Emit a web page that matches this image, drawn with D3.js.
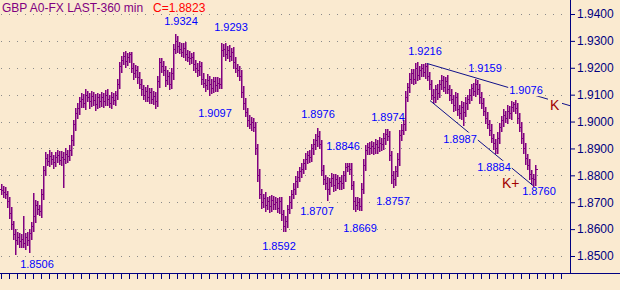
<!DOCTYPE html>
<html>
<head>
<meta charset="utf-8">
<script src="https://cdn.jsdelivr.net/npm/d3@7"></script>
<style>
  html, body { margin: 0; padding: 0; background: #FAEAD0; }
  svg { display: block; }
</style>
</head>
<body>
<svg id="chart" width="620" height="290"></svg>
<script>
// 360-min GBP bars, closes (price), wicks beyond the body in pips
const closes = [
  1.8747,1.8738,1.8729,1.8705,1.8660,1.8618,1.8582,1.8560,1.8570,1.8555,
  1.8562,1.8548,1.8570,1.8558,1.8585,1.8610,1.8650,1.8690,1.8675,1.8668,
  1.8729,1.8820,1.8866,1.8855,1.8872,1.8860,1.8850,1.8868,1.8875,1.8858,
  1.8870,1.8862,1.8878,1.8872,1.8895,1.8930,1.8990,1.9030,1.9050,1.9075,
  1.9085,1.9070,1.9100,1.9090,1.9075,1.9095,1.9080,1.9065,1.9090,1.9075,
  1.9090,1.9075,1.9100,1.9085,1.9070,1.9090,1.9080,1.9100,1.9140,1.9205,
  1.9230,1.9245,1.9225,1.9240,1.9250,1.9200,1.9180,1.9190,1.9165,1.9140,
  1.9120,1.9100,1.9115,1.9090,1.9110,1.9085,1.9095,1.9075,1.9150,1.9220,
  1.9205,1.9190,1.9155,1.9170,1.9140,1.9180,1.9270,1.9300,1.9280,1.9270,
  1.9260,1.9275,1.9250,1.9240,1.9235,1.9240,1.9215,1.9200,1.9190,1.9205,
  1.9160,1.9145,1.9135,1.9155,1.9140,1.9125,1.9150,1.9135,1.9145,1.9140,
  1.9265,1.9270,1.9250,1.9265,1.9245,1.9260,1.9220,1.9200,1.9190,1.9170,
  1.9110,1.9070,1.9035,1.9005,1.8990,1.9000,1.8980,1.8900,1.8800,1.8730,
  1.8700,1.8715,1.8690,1.8705,1.8685,1.8710,1.8695,1.8700,1.8680,1.8705,
  1.8655,1.8610,1.8630,1.8675,1.8700,1.8730,1.8750,1.8780,1.8795,1.8815,
  1.8825,1.8845,1.8860,1.8875,1.8870,1.8900,1.8915,1.8930,1.8945,1.8915,
  1.8820,1.8785,1.8770,1.8750,1.8775,1.8790,1.8765,1.8785,1.8770,1.8780,
  1.8770,1.8800,1.8830,1.8835,1.8825,1.8765,1.8705,1.8690,1.8700,1.8685,
  1.8750,1.8840,1.8895,1.8905,1.8900,1.8910,1.8900,1.8915,1.8905,1.8920,
  1.8915,1.8940,1.8955,1.8945,1.8877,1.8800,1.8785,1.8815,1.8860,1.8950,
  1.8970,1.8990,1.9090,1.9130,1.9160,1.9180,1.9160,1.9200,1.9175,1.9190,
  1.9200,1.9185,1.9205,1.9170,1.9140,1.9100,1.9090,1.9120,1.9105,1.9140,
  1.9155,1.9130,1.9150,1.9120,1.9100,1.9085,1.9060,1.9090,1.9045,1.9030,
  1.9055,1.9035,1.9070,1.9085,1.9100,1.9125,1.9115,1.9140,1.9120,1.9090,
  1.9070,1.9040,1.9015,1.8990,1.8970,1.8940,1.8920,1.8900,1.8940,1.8980,
  1.9005,1.9025,1.9015,1.9040,1.9030,1.9055,1.9065,1.9050,1.9015,1.8980,
  1.8940,1.8900,1.8865,1.8840,1.8805,1.8790,1.8785,1.8823
];
const wickHi = [
  16,14,20,12,15,22,14,18,20,15,  18,85,14,20,16,15,86,20,16,14,
  22,16,20,15,24,16,14,20,18,15,  20,16,22,15,16,20,14,20,18,15,
  20,16,22,14,18,20,15,24,16,14,  20,15,18,22,14,20,16,15,20,18,
  14,14,18,15,9,9,16,20,15,18,  20,16,14,22,16,15,20,16,20,18,
  15,20,16,22,14,20,18,24,20,16,  22,16,20,15,24,16,20,15,18,20,
  16,20,15,22,14,20,16,15,20,16,  28,20,22,16,20,14,16,20,15,18,
  20,22,16,15,20,16,14,20,16,22,  20,16,22,15,20,16,14,20,16,15,
  16,15,20,16,22,14,20,16,20,15,  20,16,22,15,20,16,20,22,31,20,
  16,20,15,22,16,20,14,20,16,15,  20,16,15,11,10,20,14,16,20,15,
  20,22,16,15,20,16,14,20,16,22,  20,16,19,16,20,15,16,20,22,20,
  20,16,22,15,20,16,14,16,20,15,  14,14,11,10,16,15,22,16,20,15,
  20,16,15,22,16,20,14,20,16,15,  20,16,22,15,20,16,18,19,16,20,
  20,16,15,22,16,20,14,16,20,15,  16,20,15,22,16,20,9,16,20,16,
  20,16,22,15,20,16,14,16
];
const wickLo = [
  16,20,15,22,20,16,20,54,16,22,  20,16,22,16,44,20,16,22,20,16,
  22,16,20,15,20,16,22,16,20,15,  20,107,16,22,15,20,16,20,16,22,
  20,16,22,15,24,16,20,22,16,20,  16,20,15,22,16,20,16,20,15,16,
  20,16,22,15,20,16,22,16,20,15,  20,16,22,15,20,16,20,24,16,20,
  20,16,22,15,20,16,20,16,22,15,  16,20,22,15,20,16,22,16,20,15,
  20,16,22,15,43,20,16,22,20,16,  16,20,22,15,20,16,20,16,22,15,
  20,22,16,20,15,22,16,20,22,16,  20,16,22,15,20,16,20,22,16,20,
  20,18,16,22,15,20,16,20,22,16,  20,16,22,15,20,16,20,16,22,15,
  20,16,22,43,20,16,22,20,16,20,  20,16,22,15,20,16,30,21,16,14,
  14,16,20,15,22,16,20,16,22,15,  20,16,22,15,20,30,28,22,16,22,
  20,16,22,15,20,16,20,16,22,15,  20,16,22,15,20,16,22,16,20,15,
  20,16,22,15,20,16,22,16,20,15,  20,48,16,22,15,20,16,20,16,22,
  20,16,22,15,20,16,22,16,16,20,  16,20,15,22,16,20,16,20,22,16,
  20,16,22,15,20,22,25,20
];
const firstOpen = 1.8750;

const yTicks = [1.85, 1.86, 1.87, 1.88, 1.89, 1.90, 1.91, 1.92, 1.93, 1.94];

// swing-point labels: value, bar it sits over
const noteVals = [1.8506, 1.9324, 1.9293, 1.9097, 1.8976, 1.8846, 1.8974, 1.8707, 1.8592,
                  1.8669, 1.8757, 1.9216, 1.9159, 1.9076, 1.8987, 1.8884, 1.8760];
const noteBars = [18, 90, 115, 107, 158.5, 171, 193.5, 158, 139,
                  179.5, 196, 212, 242, 262.5, 229.5, 246.5, 269];
// layout: pixel offset of each label from its level, and whether it cuts a channel line
const noteDy   = [13.5, -9.5, -12, 21.5, -10, -13, -7.5, 14.5, 18.5,
                  21.5, 18, -8.5, -7, -7, 17.5, 18, 9];
const noteBox  = [0,0,0,0,0,0,0,0,0, 0,0,0,0,1,1,1,0];

// channel lines [bar, price]
const upperLine = [[213, 1.9216], [284.5, 1.9059]];
const lowerLine = [[214.5, 1.9078], [266, 1.8762]];

const bg = '#FAEAD0';
const font = '"Liberation Sans", Arial, sans-serif';

const bars = closes.map((c, i) => {
  const o = i === 0 ? firstOpen : closes[i - 1];
  return {
    i: i, o: o, c: c,
    h: Math.max(o, c) + wickHi[i] / 10000,
    l: Math.min(o, c) - wickLo[i] / 10000
  };
});

const svg = d3.select('#chart');
svg.append('rect').attr('width', 620).attr('height', 290).attr('fill', bg);

const xScale = d3.scaleLinear().domain([0, 284]).range([1, 569]);
const yScale = d3.scaleLinear().domain([1.85, 1.94]).range([256, 14]);

// dotted grid
svg.append('g')
  .selectAll('line')
  .data(yTicks)
  .enter()
  .append('line')
  .attr('x1', 1).attr('x2', 566)
  .attr('y1', d => Math.round(yScale(d)) + 0.5)
  .attr('y2', d => Math.round(yScale(d)) + 0.5)
  .attr('stroke', '#8a8a8a')
  .attr('stroke-dasharray', '1,7');

// OHLC bars
const barG = svg.append('g').attr('fill', '#800080');
bars.forEach(b => {
  const x = Math.round(xScale(b.i));
  const yh = Math.round(yScale(b.h));
  const yl = Math.round(yScale(b.l));
  barG.append('rect').attr('x', x).attr('y', yh).attr('width', 1.5).attr('height', yl - yh + 1);
  barG.append('rect').attr('x', x - 2).attr('y', Math.round(yScale(b.o))).attr('width', 2).attr('height', 1);
  barG.append('rect').attr('x', x + 1).attr('y', Math.round(yScale(b.c))).attr('width', 2).attr('height', 1);
});

// channel lines
const line = d3.line().x(d => xScale(d[0])).y(d => yScale(d[1]));
[upperLine, lowerLine].forEach(pts => {
  svg.append('path')
    .attr('d', line(pts))
    .attr('fill', 'none')
    .attr('stroke', '#10108a')
    .attr('stroke-width', 1);
});

// axes
const yAxis = svg.append('g')
  .attr('transform', 'translate(570,0)')
  .call(d3.axisRight(yScale).tickValues(yTicks).tickFormat(d3.format('.4f')).tickSize(5).tickPadding(2));
yAxis.select('.domain').remove();
yAxis.selectAll('line').attr('stroke', '#000080');
yAxis.selectAll('text').attr('fill', '#000080').attr('font-size', 12).attr('font-family', font);

svg.append('line')
  .attr('x1', 570.5).attr('x2', 570.5).attr('y1', 0).attr('y2', 273)
  .attr('stroke', '#000080');

const xAxis = svg.append('g')
  .attr('transform', 'translate(0,273)')
  .call(d3.axisBottom(xScale).tickValues(d3.range(0, 284, 4)).tickFormat('').tickSize(6).tickSizeOuter(0));
xAxis.select('.domain').remove();
xAxis.selectAll('line').attr('stroke', '#000080');

svg.append('line')
  .attr('x1', 0).attr('x2', 620).attr('y1', 273.5).attr('y2', 273.5)
  .attr('stroke', '#000080');

// swing labels
const notes = svg.append('g').attr('font-family', font).attr('font-size', 11);
noteVals.forEach((v, k) => {
  const t = notes.append('text')
    .attr('x', xScale(noteBars[k]))
    .attr('y', yScale(v) + noteDy[k])
    .attr('text-anchor', 'middle')
    .attr('fill', '#0000ff')
    .text(d3.format('.4f')(v));
  if (noteBox[k]) {
    const bb = t.node().getBBox();
    notes.insert('rect', () => t.node())
      .attr('x', bb.x - 1).attr('y', bb.y)
      .attr('width', bb.width + 2).attr('height', bb.height)
      .attr('fill', bg);
  }
});

// K markers
const kBar = 274.5;
const kLevel = upperLine[0][1] + (upperLine[1][1] - upperLine[0][1]) * (kBar - upperLine[0][0]) / (upperLine[1][0] - upperLine[0][0]);
const kText = svg.append('text')
  .attr('x', xScale(kBar)).attr('y', yScale(kLevel) + 10)
  .attr('font-family', font).attr('font-size', 14)
  .attr('fill', '#a00000')
  .text('K');
const kb = kText.node().getBBox();
svg.insert('rect', () => kText.node())
  .attr('x', kb.x - 2).attr('y', kb.y)
  .attr('width', kb.width + 4).attr('height', kb.height)
  .attr('fill', bg);

svg.append('text')
  .attr('x', xScale(250.5)).attr('y', 188)
  .attr('font-family', font).attr('font-size', 14)
  .attr('fill', '#a00000')
  .text('K+');

// title
const title = svg.append('text')
  .attr('x', 2).attr('y', 12)
  .attr('font-family', font).attr('font-size', 12);
title.append('tspan').attr('fill', '#800080').text('GBP A0-FX LAST-360 min');
title.append('tspan').attr('x', 153).attr('fill', '#ff0000')
  .text('C=' + d3.format('.4f')(closes[closes.length - 1]));
</script>
</body>
</html>
